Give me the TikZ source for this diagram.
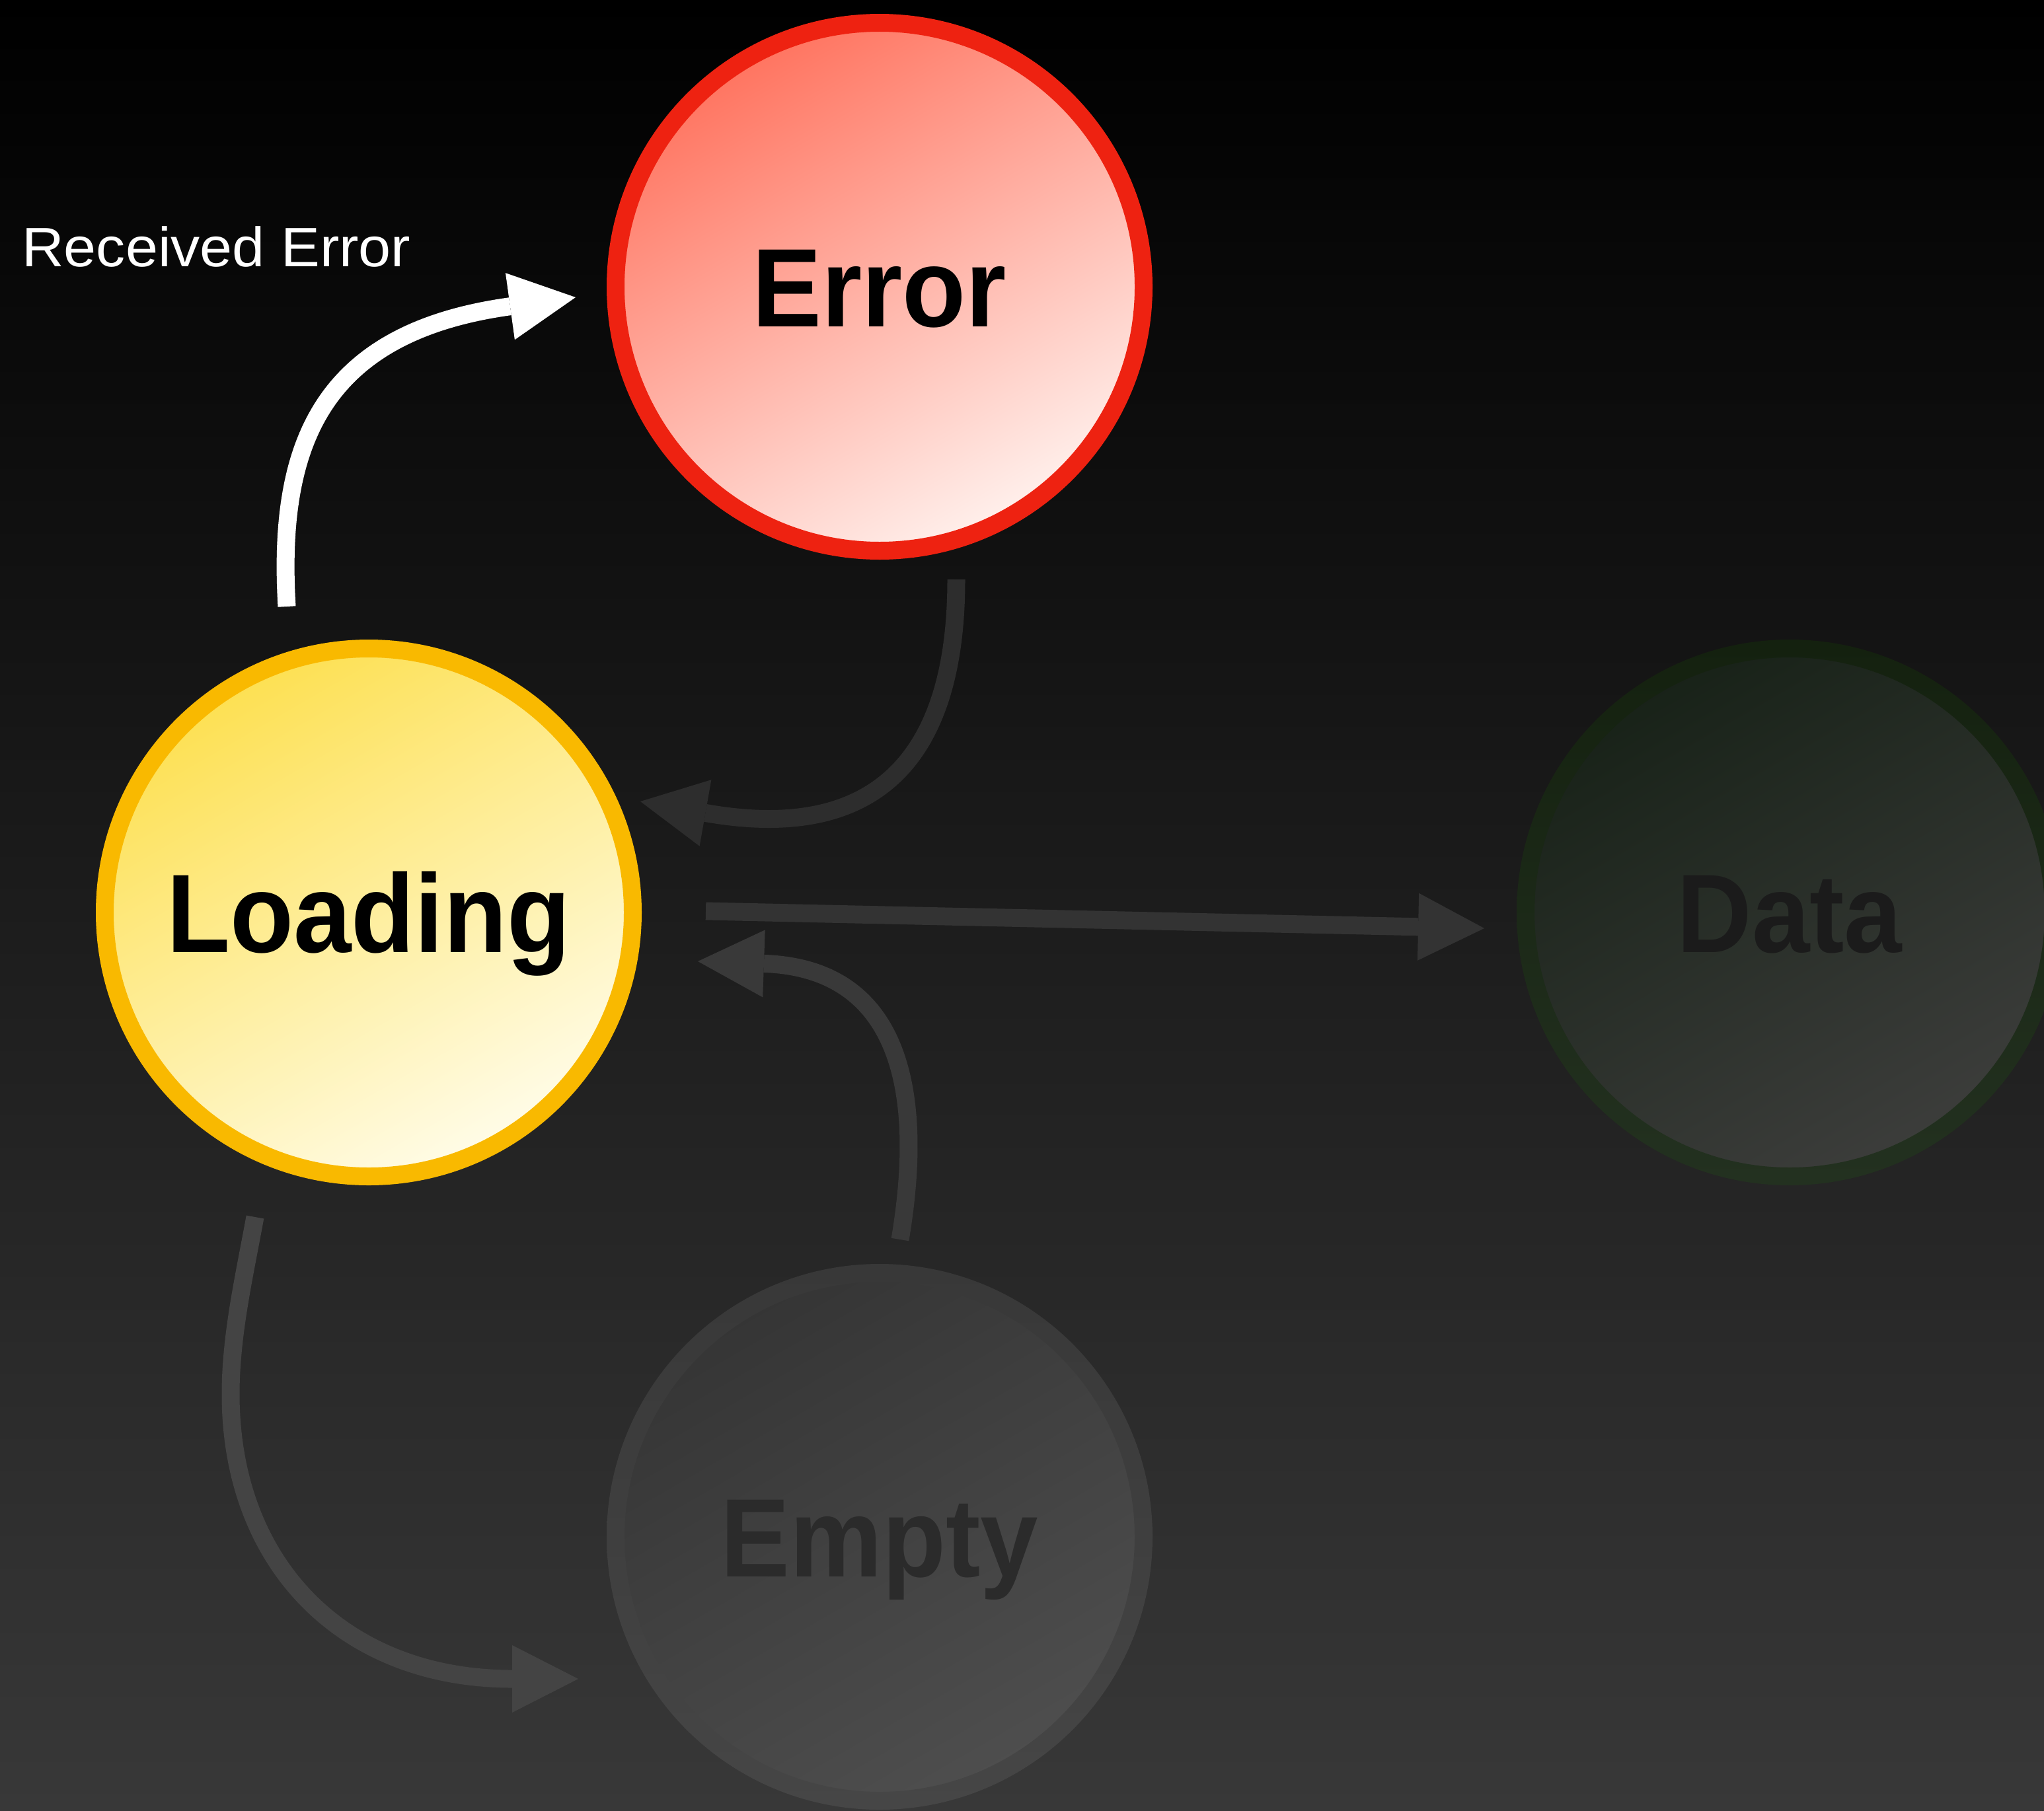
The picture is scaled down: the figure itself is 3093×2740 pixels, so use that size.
\documentclass[tikz,border=0pt]{standalone}
\usepackage{fontspec}
\usetikzlibrary{arrows.meta,calc}

\newfontfamily\statefont{Liberation Sans}[FakeStretch=0.93]
\newfontfamily\notefont{Liberation Sans}[FakeStretch=1.05]

\definecolor{bgbottom}{HTML}{383838}
\definecolor{errline}{HTML}{EE2211}
\definecolor{errtop}{HTML}{FF7460}
\definecolor{errbot}{HTML}{FFF0EC}
\definecolor{loadline}{HTML}{F9B900}
\definecolor{loadtop}{HTML}{FDE052}
\definecolor{loadbot}{HTML}{FFFCE8}
\definecolor{dataringtop}{HTML}{14210F}
\definecolor{dataringbot}{HTML}{233120}
\definecolor{datatop}{HTML}{182218}
\definecolor{databot}{HTML}{3C3D3B}
\definecolor{datatext}{HTML}{1B1B1B}
\definecolor{emptyringtop}{HTML}{383838}
\definecolor{emptyringbot}{HTML}{464646}
\definecolor{emptytop}{HTML}{353535}
\definecolor{emptybot}{HTML}{4E4E4E}
\definecolor{emptytext}{HTML}{2B2B2B}
\definecolor{flowA}{HTML}{2D2D2D}
\definecolor{flowB}{HTML}{333333}
\definecolor{flowC}{HTML}{393939}
\definecolor{flowD}{HTML}{444444}

\tikzset{
  state/.style={circle, inner sep=0pt, minimum size=799pt, line width=27pt},
  tint/.style 2 args={top color=#1, bottom color=#2, shading angle=30},
  ring/.style 2 args={even odd rule, top color=#1, bottom color=#2},
  statelabel/.style={anchor=base, inner sep=0pt,
    font=\statefont\bfseries\fontsize{169}{200}\selectfont},
  flow/.style={line width=27pt,
    -{Triangle[length=100pt, width=102pt, line width=0pt]}},
}

\begin{document}
\begin{tikzpicture}[x=1pt, y=-1pt]
\useasboundingbox (0,0) rectangle (3093,2740);
\clip (0,0) rectangle (3093,2740);

% backdrop
\shade[top color=black, bottom color=bgbottom] (0,0) rectangle (3093,2740);

% states
\node[state, draw=errline, tint={errtop}{errbot}] (error) at (1331,434) {};
\node[state, draw=loadline, tint={loadtop}{loadbot}] (load) at (558,1381) {};
\node[state, tint={datatop}{databot}] (data) at (2708,1381) {};
\node[state, tint={emptytop}{emptybot}] (empty) at (1331,2326) {};

% faded rims of the inactive states
\shade[ring={dataringtop}{dataringbot}]
  (data.center) circle[radius=413pt] (data.center) circle[radius=386pt];
\shade[ring={emptyringtop}{emptyringbot}]
  (empty.center) circle[radius=413pt] (empty.center) circle[radius=386pt];

\node[statelabel] (errortext) at ([yshift=-60pt]error.center) {Error};
\node[statelabel] (loadtext) at ([yshift=-60pt]load.center) {Loading};
\node[statelabel, text=datatext] (datatext) at ([yshift=-60pt]data.center) {Data};
\node[statelabel, text=emptytext] (emptytext) at ([yshift=-60pt]empty.center) {Empty};

% transitions
\draw[flow, white] ($(load)+(-124,-463)$) .. controls +(-14,-238) and +(-391,54) .. ($(error)+(-460,16)$);
\draw[flow, flowA] ($(error)+(116,443)$) .. controls +(0,223) and +(396,70) .. ($(load)+(411,-168)$);
\draw[flow, flowB] ($(load)+(510,-2)$) -- ($(data)+(-462,24)$);
\draw[flow, flowC] ($(empty)+(31,-450)$) .. controls +(33,-196) and +(322,11) .. ($(load)+(498,74)$);
\coordinate (bend) at ($(load)+(-209,729)$);
\draw[flow, flowD] ($(load)+(-172,461)$) .. controls +(-16,88) and +(0,-90) .. (bend)
  .. controls +(0,257) and +(-356,0) .. ($(empty)+(-456,215)$);

% transition caption
\node[anchor=base west, inner sep=0pt, text=white,
  font=\notefont\fontsize{84}{100}\selectfont] (recv) at (33,403) {Received Error};
\end{tikzpicture}
\end{document}
